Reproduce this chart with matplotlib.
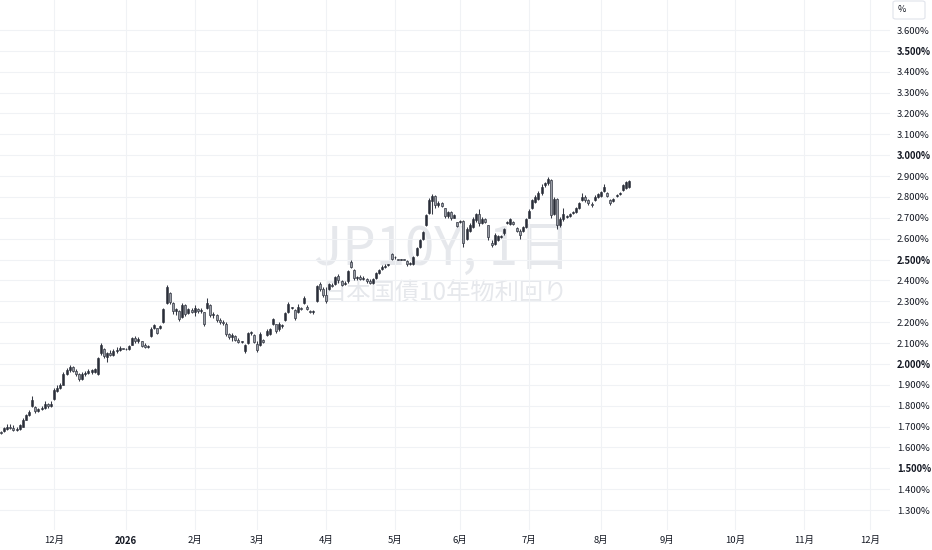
import numpy as np
import pandas as pd
import matplotlib
matplotlib.use("Agg")
import matplotlib.pyplot as plt
from matplotlib.patches import FancyBboxPatch

plt.rcParams['font.family'] = ['Noto Sans CJK JP', 'DejaVu Sans']

# JP10Y daily candles, 2025-11-06 .. 2026-08-14 (weekdays)
start_day = '2025-11-06'
end_day = '2026-08-14'

opens = [
    # Nov
    1.675, 1.68, 1.69, 1.70, 1.695, 1.685, 1.69, 1.70, 1.73, 1.755, 1.80, 1.795, 1.775, 1.785, 1.79, 1.81, 1.80,
    # Dec
    1.83, 1.87, 1.885, 1.90, 1.95, 1.97, 1.985, 1.965, 1.95, 1.93, 1.95, 1.955, 1.96, 1.96, 1.95, 2.05, 2.07, 2.035, 2.05, 2.045, 2.06, 2.065, 2.075,
    # Jan
    2.07, 2.07, 2.09, 2.125, 2.11, 2.11, 2.09, 2.08, 2.135, 2.17, 2.17, 2.17, 2.20, 2.29, 2.34, 2.29, 2.255, 2.255, 2.225, 2.28, 2.245, 2.26,
    # Feb
    2.25, 2.265, 2.255, 2.25, 2.27, 2.28, 2.235, 2.235, 2.21, 2.20, 2.19, 2.145, 2.13, 2.135, 2.115, 2.105, 2.06, 2.10, 2.15, 2.14,
    # Mar
    2.095, 2.09, 2.115, 2.14, 2.145, 2.19, 2.19, 2.165, 2.18, 2.21, 2.25, 2.27, 2.26, 2.25, 2.27, 2.29, 2.275, 2.255, 2.25, 2.30, 2.385, 2.36,
    # Apr
    2.33, 2.36, 2.38, 2.385, 2.42, 2.395, 2.385, 2.395, 2.49, 2.45, 2.41, 2.415, 2.405, 2.405, 2.395, 2.39, 2.41, 2.435, 2.455, 2.465, 2.475, 2.525,
    # May
    2.51, 2.505, 2.50, 2.505, 2.495, 2.48, 2.48, 2.52, 2.56, 2.60, 2.665, 2.725, 2.78, 2.805, 2.76, 2.77, 2.745, 2.71, 2.73, 2.70, 2.68,
    # Jun
    2.68, 2.685, 2.60, 2.635, 2.655, 2.69, 2.72, 2.675, 2.695, 2.665, 2.58, 2.575, 2.595, 2.61, 2.625, 2.675, 2.67, 2.68, 2.65, 2.635, 2.635, 2.655,
    # Jul
    2.70, 2.745, 2.775, 2.79, 2.82, 2.855, 2.865, 2.88, 2.72, 2.79, 2.665, 2.695, 2.705, 2.71, 2.725, 2.73, 2.745, 2.785, 2.80, 2.785, 2.765, 2.785, 2.80,
    # Aug
    2.805, 2.83, 2.82, 2.785, 2.78, 2.805, 2.815, 2.835, 2.845, 2.85,
]
highs = [
    1.68, 1.70, 1.71, 1.71, 1.705, 1.70, 1.71, 1.74, 1.76, 1.78, 1.845, 1.80, 1.79, 1.80, 1.82, 1.815, 1.82,
    1.885, 1.90, 1.91, 1.96, 1.98, 1.995, 1.99, 1.975, 1.955, 1.96, 1.965, 1.975, 1.975, 1.98, 2.035, 2.10, 2.075, 2.055, 2.065, 2.07, 2.08, 2.085, 2.078,
    2.075, 2.09, 2.13, 2.135, 2.13, 2.11, 2.10, 2.09, 2.175, 2.19, 2.17, 2.185, 2.27, 2.38, 2.345, 2.295, 2.27, 2.26, 2.29, 2.285, 2.27, 2.27,
    2.28, 2.27, 2.27, 2.25, 2.315, 2.285, 2.25, 2.24, 2.22, 2.21, 2.20, 2.15, 2.15, 2.14, 2.125, 2.11, 2.095, 2.155, 2.16, 2.145,
    2.11, 2.155, 2.12, 2.165, 2.17, 2.22, 2.19, 2.20, 2.19, 2.25, 2.295, 2.275, 2.265, 2.285, 2.275, 2.325, 2.28, 2.26, 2.26, 2.38, 2.392, 2.37,
    2.37, 2.39, 2.39, 2.42, 2.43, 2.40, 2.395, 2.45, 2.50, 2.455, 2.42, 2.425, 2.42, 2.41, 2.405, 2.41, 2.44, 2.455, 2.475, 2.48, 2.48, 2.53,
    2.515, 2.505, 2.505, 2.505, 2.50, 2.49, 2.515, 2.56, 2.60, 2.635, 2.72, 2.795, 2.815, 2.81, 2.78, 2.775, 2.745, 2.735, 2.735, 2.72, 2.68,
    2.69, 2.69, 2.655, 2.675, 2.705, 2.725, 2.74, 2.705, 2.70, 2.665, 2.595, 2.625, 2.62, 2.62, 2.65, 2.685, 2.70, 2.685, 2.655, 2.645, 2.66, 2.70,
    2.74, 2.79, 2.81, 2.83, 2.86, 2.87, 2.895, 2.885, 2.80, 2.795, 2.705, 2.745, 2.715, 2.725, 2.735, 2.75, 2.775, 2.82, 2.81, 2.79, 2.775, 2.81, 2.82,
    2.83, 2.86, 2.825, 2.79, 2.795, 2.815, 2.825, 2.86, 2.875, 2.88,
]
lows = [
    1.665, 1.675, 1.685, 1.69, 1.68, 1.68, 1.685, 1.70, 1.73, 1.75, 1.795, 1.765, 1.77, 1.78, 1.785, 1.79, 1.795,
    1.825, 1.865, 1.88, 1.90, 1.945, 1.96, 1.96, 1.94, 1.92, 1.925, 1.94, 1.95, 1.95, 1.955, 1.945, 2.045, 2.03, 2.01, 2.04, 2.04, 2.05, 2.06, 2.07,
    2.065, 2.065, 2.09, 2.10, 2.10, 2.08, 2.075, 2.075, 2.13, 2.165, 2.145, 2.165, 2.195, 2.285, 2.285, 2.24, 2.235, 2.205, 2.22, 2.23, 2.24, 2.245,
    2.23, 2.245, 2.245, 2.18, 2.265, 2.225, 2.22, 2.20, 2.19, 2.185, 2.135, 2.12, 2.11, 2.11, 2.10, 2.10, 2.05, 2.095, 2.14, 2.10,
    2.055, 2.085, 2.10, 2.135, 2.14, 2.185, 2.15, 2.16, 2.17, 2.205, 2.245, 2.265, 2.21, 2.245, 2.26, 2.285, 2.26, 2.245, 2.24, 2.295, 2.35, 2.32,
    2.29, 2.355, 2.37, 2.38, 2.39, 2.375, 2.38, 2.39, 2.46, 2.40, 2.40, 2.40, 2.40, 2.39, 2.385, 2.385, 2.405, 2.43, 2.45, 2.46, 2.47, 2.50,
    2.505, 2.50, 2.50, 2.50, 2.47, 2.475, 2.475, 2.515, 2.555, 2.595, 2.66, 2.72, 2.72, 2.745, 2.75, 2.75, 2.70, 2.70, 2.69, 2.70, 2.655,
    2.675, 2.56, 2.595, 2.63, 2.65, 2.68, 2.66, 2.67, 2.675, 2.595, 2.56, 2.57, 2.59, 2.605, 2.62, 2.67, 2.665, 2.665, 2.63, 2.60, 2.63, 2.65,
    2.70, 2.74, 2.77, 2.785, 2.81, 2.85, 2.855, 2.70, 2.715, 2.645, 2.655, 2.685, 2.70, 2.705, 2.72, 2.725, 2.74, 2.78, 2.775, 2.76, 2.75, 2.78, 2.795,
    2.80, 2.825, 2.80, 2.76, 2.775, 2.80, 2.81, 2.83, 2.84, 2.845,
]
closes = [
    1.67, 1.695, 1.70, 1.695, 1.685, 1.69, 1.705, 1.73, 1.755, 1.77, 1.825, 1.775, 1.785, 1.79, 1.81, 1.80, 1.81,
    1.875, 1.885, 1.90, 1.95, 1.97, 1.985, 1.965, 1.95, 1.93, 1.95, 1.955, 1.965, 1.97, 1.975, 2.03, 2.09, 2.04, 2.05, 2.045, 2.06, 2.065, 2.075, 2.072,
    2.07, 2.085, 2.125, 2.11, 2.12, 2.085, 2.08, 2.085, 2.165, 2.185, 2.15, 2.18, 2.265, 2.37, 2.295, 2.255, 2.265, 2.215, 2.28, 2.24, 2.265, 2.25,
    2.27, 2.255, 2.26, 2.19, 2.29, 2.235, 2.24, 2.21, 2.20, 2.195, 2.145, 2.13, 2.14, 2.115, 2.105, 2.105, 2.09, 2.15, 2.155, 2.105,
    2.065, 2.145, 2.105, 2.16, 2.165, 2.215, 2.16, 2.19, 2.185, 2.245, 2.285, 2.27, 2.22, 2.275, 2.265, 2.315, 2.265, 2.25, 2.255, 2.375, 2.36, 2.33,
    2.30, 2.385, 2.375, 2.415, 2.40, 2.38, 2.39, 2.445, 2.465, 2.41, 2.415, 2.405, 2.41, 2.395, 2.39, 2.405, 2.435, 2.45, 2.465, 2.47, 2.478, 2.505,
    2.51, 2.50, 2.505, 2.50, 2.48, 2.485, 2.51, 2.555, 2.595, 2.63, 2.715, 2.785, 2.805, 2.76, 2.77, 2.755, 2.71, 2.73, 2.70, 2.715, 2.66,
    2.685, 2.58, 2.645, 2.665, 2.695, 2.72, 2.675, 2.695, 2.68, 2.61, 2.57, 2.62, 2.615, 2.612, 2.645, 2.68, 2.695, 2.67, 2.635, 2.62, 2.655, 2.695,
    2.735, 2.785, 2.80, 2.82, 2.85, 2.865, 2.885, 2.715, 2.79, 2.665, 2.695, 2.72, 2.71, 2.72, 2.73, 2.745, 2.77, 2.80, 2.785, 2.77, 2.76, 2.80, 2.815,
    2.825, 2.85, 2.805, 2.77, 2.79, 2.81, 2.82, 2.855, 2.87, 2.875,
]

y_ticks = [1.3, 1.4, 1.5, 1.6, 1.7, 1.8, 1.9, 2.0, 2.1, 2.2, 2.3, 2.4, 2.5,
           2.6, 2.7, 2.8, 2.9, 3.0, 3.1, 3.2, 3.3, 3.4, 3.5, 3.6]
bold_ticks = [1.5, 2.0, 2.5, 3.0, 3.5]

days = pd.bdate_range(start_day, end_day)
o = np.array(opens)
h = np.array(highs)
l = np.array(lows)
c = np.array(closes)
n = min(len(days), len(o), len(h), len(l), len(c))
o, h, l, c = o[:n], h[:n], l[:n], c[:n]
pos = np.arange(n)

# bar axis continues into the future (TradingView style)
all_days = pd.bdate_range(start_day, '2026-12-31')
month_first = np.where(all_days.month != np.roll(all_days.month, 1))[0]
month_first = [i for i in month_first if all_days[i] >= pd.Timestamp('2025-12-01')]
month_labels = []
for i in month_first:
    d = all_days[i]
    month_labels.append(str(d.year) if d.month == 1 else f"{d.month}月")

W, H = 932, 550
fig = plt.figure(figsize=(W / 100, H / 100), dpi=100)
ax = fig.add_axes([0, 20 / H, 890 / W, 530 / H])

text_col = '#131722'
grid_col = '#f0f2f5'
up_col = '#2a2e39'
down_face = '#9a9da6'
edge_col = '#363a45'

ax.set_xlim(-0.3, -0.3 + 890 / 3.125)
ax.set_ylim(3.6 - 500 / 208.7, 3.6 + 30 / 208.7)

# watermark
ax.text(0.497, 0.528, 'JP10Y, 1日', transform=ax.transAxes, ha='center', va='center',
        fontsize=38, color='#e6e8ec', zorder=0.5)
ax.text(0.5, 0.445, '日本国債10年物利回り', transform=ax.transAxes, ha='center', va='center',
        fontsize=17.5, color='#e6e8ec', zorder=0.5)

# candles
up = c >= o
ax.vlines(pos, l, h, color=edge_col, linewidth=0.75, zorder=2)
body_h = np.maximum(np.abs(c - o), 0.003)
body_b = np.minimum(o, c)
ax.bar(pos[up], body_h[up], bottom=body_b[up], width=0.66, color=up_col,
       edgecolor=up_col, linewidth=0.4, zorder=3)
ax.bar(pos[~up], body_h[~up], bottom=body_b[~up], width=0.66, color=down_face,
       edgecolor=edge_col, linewidth=0.5, zorder=3)

# axes styling
for s in ax.spines.values():
    s.set_visible(False)
ax.set_xticks(month_first)
ax.set_xticklabels(month_labels)
ax.set_yticks(y_ticks)
ax.set_yticklabels([f"{v:.3f}%" for v in y_ticks])
ax.yaxis.tick_right()
ax.tick_params(axis='y', length=0, pad=5, labelsize=6.8, labelcolor=text_col)
ax.tick_params(axis='x', length=0, pad=4.5, labelsize=6.8, labelcolor=text_col)
for lab, v in zip(ax.get_yticklabels(), y_ticks):
    if round(v, 1) in bold_ticks:
        lab.set_fontweight('bold')
for lab, txt in zip(ax.get_xticklabels(), month_labels):
    if not txt.endswith('月'):
        lab.set_fontweight('bold')
ax.grid(True, color=grid_col, linewidth=0.8, zorder=0)
ax.set_axisbelow(True)

# unit box in the top right corner
box = FancyBboxPatch((893 / W, 1 - 19 / H), 32 / W, 18 / H,
                     boxstyle='round,pad=0,rounding_size=0.003',
                     transform=fig.transFigure, facecolor='white',
                     edgecolor='#e0e3eb', linewidth=0.8)
fig.add_artist(box)
fig.text(898 / W, 1 - 10 / H, '%', ha='left', va='center', fontsize=6.5, color=text_col)

fig.savefig('out.png', dpi=100)
